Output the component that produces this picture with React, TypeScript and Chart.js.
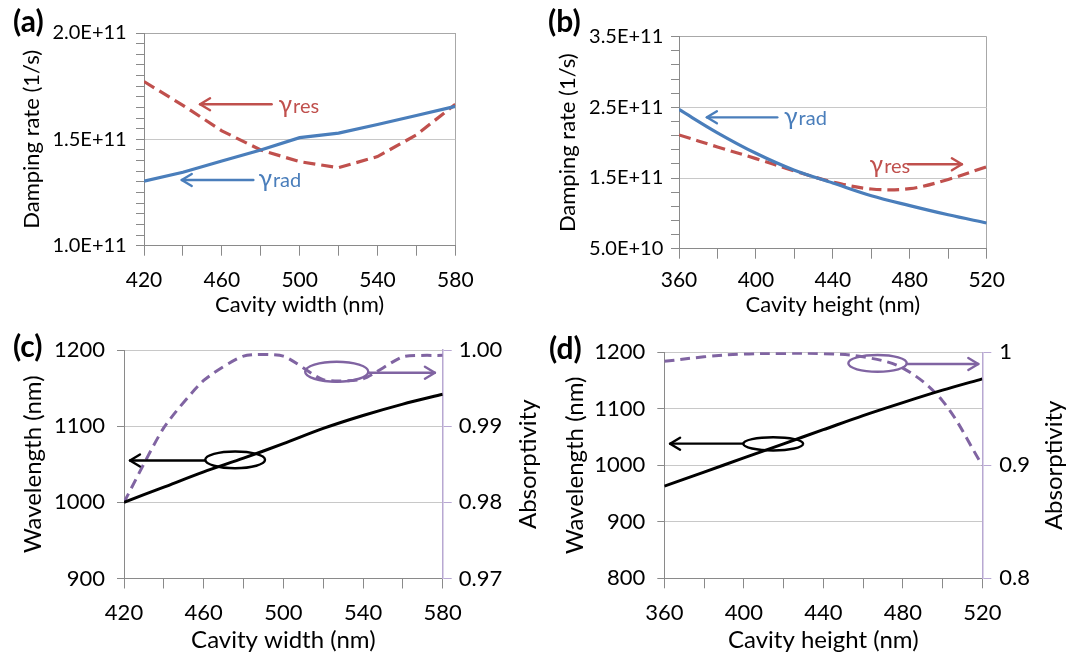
import React, { useEffect, useRef } from "react";
import { Chart, registerables } from "chart.js";
Chart.register(...registerables);

const FONT = "Lato, 'Noto Sans', 'DejaVu Sans', sans-serif";
const AXIS = "#8a8a8a";
const GRID = "#c8c8c8";
const FRAME = "#a8a8a8";
const BLUE = "#4a7ebb";
const RED = "#c0504d";
const PURPLE = "#8064a2";
const PURPLE_AXIS = "#b8a8d2";
const CLEAR = "rgba(0,0,0,0)";

// ---------- categories / x values ----------
const widthNm = [420, 440, 460, 480, 500, 520, 540, 560, 580];
const heightNm = [360, 380, 400, 420, 440, 460, 480, 500, 520];
const widthLabels = [420, 460, 500, 540, 580];
const heightLabels = [360, 400, 440, 480, 520];

// ---------- (a) damping rate vs cavity width ----------
const gammaRadA = [1.303e11, 1.345e11, 1.398e11, 1.45e11, 1.508e11, 1.529e11, 1.57e11, 1.612e11, 1.655e11];
const gammaResA = [1.772e11, 1.66e11, 1.54e11, 1.45e11, 1.395e11, 1.367e11, 1.419e11, 1.521e11, 1.665e11];
const yLabelsA = [1.0e11, 1.5e11, 2.0e11];
const yGridA = [1.5e11];

// ---------- (b) damping rate vs cavity height ----------
const gammaRadB = [2.47e11, 2.14e11, 1.85e11, 1.61e11, 1.43e11, 1.25e11, 1.11e11, 0.98e11, 0.863e11];
const gammaResB = [2.11e11, 1.94e11, 1.775e11, 1.6e11, 1.445e11, 1.345e11, 1.35e11, 1.48e11, 1.66e11];
const yLabelsB = [0.5e11, 1.5e11, 2.5e11, 3.5e11];
const yGridB = [1.5e11, 2.5e11];

// ---------- (c) wavelength / absorptivity vs cavity width ----------
const wavelengthC = [1000, 1020, 1040, 1058, 1077, 1097, 1114, 1129, 1142];
const absorptivityC = [0.98, 0.9898, 0.996, 0.9992, 0.9992, 0.9961, 0.9962, 0.9991, 0.9993];
const yTicksC = [900, 1000, 1100, 1200];
const y1TicksC = [0.97, 0.98, 0.99, 1.0];

// ---------- (d) wavelength / absorptivity vs cavity height ----------
const wavelengthD = [963, 988, 1013, 1038, 1063, 1088, 1111, 1133, 1153];
const absorptivityD = [0.992, 0.996, 0.9985, 0.999, 0.9988, 0.996, 0.986, 0.957, 0.9];
const yTicksD = [800, 900, 1000, 1100, 1200];
const y1TicksD = [0.8, 0.9, 1.0];

// ---------- annotations (data coordinates) ----------
const annotA = [
  { type: "arrow", from: 485.6, to: 448.8, y: 1.665e11, color: RED },
  { type: "label", x: 489.1, y: 1.6225e11, sub: "res", color: RED },
  { type: "arrow", from: 476.2, to: 439.4, y: 1.309e11, color: BLUE },
  { type: "label", x: 478.8, y: 1.277e11, sub: "rad", color: BLUE },
];
const annotB = [
  { type: "arrow", from: 411.1, to: 374.5, y: 2.359e11, color: BLUE },
  { type: "label", x: 414.6, y: 2.25e11, sub: "rad", color: BLUE },
  { type: "arrow", from: 479.2, to: 507.1, y: 1.694e11, color: RED },
  { type: "label", x: 459.1, y: 1.567e11, sub: "res", color: RED },
];
const annotC = [
  { type: "ellipse", x: 475.8, y: 1055.8, w: 30, h: 22, axis: "y", color: "#000" },
  { type: "arrow", from: 460.7, to: 423, y: 1055, axis: "y", color: "#000" },
  { type: "ellipse", x: 526.8, y: 0.99715, w: 31.7, h: 0.00262, axis: "y1", color: PURPLE },
  { type: "arrow", from: 542.6, to: 576.1, y: 0.99702, axis: "y1", color: PURPLE },
];
const annotD = [
  { type: "ellipse", x: 414.8, y: 1038, w: 30.1, h: 23.5, axis: "y", color: "#000" },
  { type: "arrow", from: 399.7, to: 362.9, y: 1038.3, axis: "y", color: "#000" },
  { type: "ellipse", x: 467.3, y: 0.9902, w: 29.4, h: 0.0148, axis: "y1", color: PURPLE },
  { type: "arrow", from: 482, to: 518, y: 0.9897, axis: "y1", color: PURPLE },
];

function range(start: number, end: number, step: number) {
  const out: number[] = [];
  for (let v = start; v <= end + step * 0.001; v += step) out.push(Math.round(v));
  return out;
}

function marksPlugin(marks: any[]) {
  return {
    id: "marks",
    afterDatasetsDraw(chart: any) {
      const ctx = chart.ctx;
      const xs = chart.scales.x;
      for (const m of marks) {
        const ys = chart.scales[m.axis || "y"];
        ctx.save();
        ctx.strokeStyle = m.color;
        ctx.fillStyle = m.color;
        ctx.lineWidth = 2.4;
        ctx.lineCap = "round";
        ctx.lineJoin = "round";
        if (m.type === "arrow") {
          const x1 = xs.getPixelForValue(m.from);
          const x2 = xs.getPixelForValue(m.to);
          const y = ys.getPixelForValue(m.y);
          ctx.beginPath();
          ctx.moveTo(x1, y);
          ctx.lineTo(x2, y);
          ctx.stroke();
          const dir = Math.sign(x2 - x1);
          ctx.beginPath();
          ctx.moveTo(x2 - dir * 10, y - 6);
          ctx.lineTo(x2, y);
          ctx.lineTo(x2 - dir * 10, y + 6);
          ctx.stroke();
        } else if (m.type === "ellipse") {
          const cx = xs.getPixelForValue(m.x);
          const cy = ys.getPixelForValue(m.y);
          const rx = Math.abs(xs.getPixelForValue(m.x + m.w / 2) - cx);
          const ry = Math.abs(ys.getPixelForValue(m.y + m.h / 2) - cy);
          ctx.beginPath();
          ctx.ellipse(cx, cy, rx, ry, 0, 0, Math.PI * 2);
          ctx.stroke();
        } else if (m.type === "label") {
          const x = xs.getPixelForValue(m.x);
          const y = ys.getPixelForValue(m.y);
          ctx.textAlign = "left";
          ctx.textBaseline = "alphabetic";
          ctx.font = `25px ${FONT}`;
          ctx.fillText("γ", x, y);
          const w = ctx.measureText("γ").width;
          ctx.font = `20px ${FONT}`;
          ctx.fillText(m.sub, x + w + 1, y);
        }
        ctx.restore();
      }
    },
  };
}

function rightTitlePlugin(text: string, pad: number) {
  return {
    id: "rightTitle",
    afterDraw(chart: any) {
      const s = chart.scales.y1;
      const ca = chart.chartArea;
      const ctx = chart.ctx;
      ctx.save();
      ctx.translate(s.right - pad, (ca.top + ca.bottom) / 2);
      ctx.rotate(-Math.PI / 2);
      ctx.textAlign = "center";
      ctx.textBaseline = "middle";
      ctx.font = `24px ${FONT}`;
      ctx.fillStyle = "#000";
      ctx.fillText(text, 0, 0);
      ctx.restore();
    },
  };
}

const font = (size: number) => ({ family: FONT, size });

function xAxis(opts: {
  min: number; max: number; ticks: number[]; labels: number[]; title: string; tickSize: number; titleSize: number;
  height: number; pad: number; titlePad: number; frameRight: boolean;
}) {
  return {
    type: "linear",
    min: opts.min,
    max: opts.max,
    afterBuildTicks: (s: any) => { s.ticks = opts.ticks.map((v) => ({ value: v })); },
    afterFit: (s: any) => { s.height = opts.height; },
    ticks: {
      autoSkip: false,
      maxRotation: 0,
      padding: opts.pad,
      font: font(opts.tickSize),
      color: "#000",
      callback: (v: number) => (opts.labels.includes(v) ? String(v) : ""),
    },
    grid: {
      color: (c: any) => (opts.frameRight && c.tick && c.tick.value === opts.max ? FRAME : CLEAR),
      tickColor: AXIS,
      tickLength: 10,
      lineWidth: 1,
    },
    border: { display: true, color: AXIS, width: 1 },
    title: { display: true, text: opts.title, font: font(opts.titleSize), color: "#000", padding: { top: 0, bottom: opts.titlePad } },
  };
}

function yAxis(opts: {
  min: number; max: number; ticks: number[]; labels: number[]; grid: number[]; top: string | null; tickSize: number; titleSize: number;
  fmt: (v: number) => string; width: number; pad: number; tickLength: number; title: string; titlePad: number;
}) {
  return {
    type: "linear",
    position: "left",
    min: opts.min,
    max: opts.max,
    afterBuildTicks: (s: any) => { s.ticks = opts.ticks.map((v) => ({ value: v })); },
    afterFit: (s: any) => { s.width = opts.width; },
    ticks: {
      autoSkip: false,
      padding: opts.pad,
      font: font(opts.tickSize),
      color: "#000",
      callback: (v: number) => (opts.labels.includes(v) ? opts.fmt(v) : ""),
    },
    grid: {
      color: (c: any) => {
        if (!c.tick) return CLEAR;
        if (c.tick.value === opts.max && opts.top) return opts.top;
        return opts.grid.includes(c.tick.value) ? GRID : CLEAR;
      },
      tickColor: AXIS,
      tickLength: opts.tickLength,
      lineWidth: 1,
    },
    border: { display: true, color: AXIS, width: 1 },
    title: { display: true, text: opts.title, font: font(opts.titleSize), color: "#000", padding: { top: opts.titlePad, bottom: 0 } },
  };
}

function y1Axis(opts: { min: number; max: number; ticks: number[]; fmt: (v: number) => string; width: number; pad: number }) {
  return {
    type: "linear",
    position: "right",
    min: opts.min,
    max: opts.max,
    afterBuildTicks: (s: any) => { s.ticks = opts.ticks.map((v) => ({ value: v })); },
    afterFit: (s: any) => { s.width = opts.width; },
    ticks: { autoSkip: false, padding: opts.pad, font: font(22), color: "#000", callback: (v: number) => opts.fmt(v) },
    grid: { drawOnChartArea: false, tickColor: PURPLE_AXIS, tickLength: 9, lineWidth: 1 },
    border: { display: true, color: PURPLE_AXIS, width: 1.5 },
    title: { display: false },
  };
}

const sci = (v: number) => v.toExponential(1).toUpperCase();

function pts(xs: number[], ys: number[]) {
  return xs.map((x, i) => ({ x, y: ys[i] }));
}

const baseOptions = (padding: any, scales: any) => ({
  responsive: false,
  animation: false,
  devicePixelRatio: 1,
  layout: { padding },
  plugins: { legend: { display: false }, tooltip: { enabled: false } },
  elements: { point: { radius: 0 } },
  scales,
});

function configA() {
  return {
    type: "line",
    data: {
      datasets: [
        { data: pts(widthNm, gammaRadA), borderColor: BLUE, borderWidth: 3.2, tension: 0, fill: false },
        { data: pts(widthNm, gammaResA), borderColor: RED, borderWidth: 3.2, borderDash: [12, 6], tension: 0, fill: false },
      ],
    },
    options: baseOptions({ top: 33, right: 79.7, left: 0, bottom: 0 }, {
      x: xAxis({ min: 420, max: 580, ticks: widthNm, labels: widthLabels, title: "Cavity width (nm)", tickSize: 21, titleSize: 22, height: 74.3, pad: 11.7, titlePad: 1.8, frameRight: true }),
      y: yAxis({ min: 1.0e11, max: 2.0e11, ticks: range(1.0e11, 2.0e11, 5e9), labels: yLabelsA, grid: yGridA, top: FRAME, tickSize: 20, titleSize: 22, fmt: sci, width: 144, pad: 9.3, tickLength: 8, title: "Damping rate (1/s)", titlePad: 18.5 }),
    }),
    plugins: [marksPlugin(annotA)],
  };
}

function configB() {
  return {
    type: "line",
    data: {
      datasets: [
        { data: pts(heightNm, gammaRadB), borderColor: BLUE, borderWidth: 3.2, tension: 0.35, fill: false },
        { data: pts(heightNm, gammaResB), borderColor: RED, borderWidth: 3.2, borderDash: [12, 6], tension: 0.35, fill: false },
      ],
    },
    options: baseOptions({ top: 36.7, right: 88.3, left: 0, bottom: 0 }, {
      x: xAxis({ min: 360, max: 520, ticks: heightNm, labels: heightLabels, title: "Cavity height (nm)", tickSize: 21, titleSize: 22, height: 71.3, pad: 9.1, titlePad: 1.8, frameRight: true }),
      y: yAxis({ min: 0.5e11, max: 3.5e11, ticks: range(0.5e11, 3.5e11, 2e10), labels: yLabelsB, grid: yGridB, top: FRAME, tickSize: 20, titleSize: 22, fmt: sci, width: 144, pad: 7.7, tickLength: 8, title: "Damping rate (1/s)", titlePad: 20.1 }),
    }),
    plugins: [marksPlugin(annotB)],
  };
}

function configC() {
  return {
    type: "line",
    data: {
      datasets: [
        { data: pts(widthNm, wavelengthC), borderColor: "#000", borderWidth: 3, tension: 0.3, fill: false, yAxisID: "y" },
        { data: pts(widthNm, absorptivityC), borderColor: PURPLE, borderWidth: 3, borderDash: [10, 6], tension: 0.2, fill: false, yAxisID: "y1" },
      ],
    },
    options: baseOptions({ top: 30, right: 0, left: 0, bottom: 0 }, {
      x: xAxis({ min: 420, max: 580, ticks: widthNm, labels: widthLabels, title: "Cavity width (nm)", tickSize: 22, titleSize: 24, height: 78.5, pad: 11.3, titlePad: 2.6, frameRight: false }),
      y: yAxis({ min: 900, max: 1200, ticks: yTicksC, labels: yTicksC, grid: [1000, 1100], top: GRID, tickSize: 22, titleSize: 24, fmt: (v) => String(v), width: 124, pad: 12, tickLength: 7, title: "Wavelength (nm)", titlePad: 18.6 }),
      y1: y1Axis({ min: 0.97, max: 1.0, ticks: y1TicksC, fmt: (v) => v.toFixed(2), width: 107.3, pad: 7 }),
    }),
    plugins: [marksPlugin(annotC), rightTitlePlugin("Absorptivity", 22)],
  };
}

function configD() {
  return {
    type: "line",
    data: {
      datasets: [
        { data: pts(heightNm, wavelengthD), borderColor: "#000", borderWidth: 3, tension: 0.3, fill: false, yAxisID: "y" },
        { data: pts(heightNm, absorptivityD), borderColor: PURPLE, borderWidth: 3, borderDash: [10, 6], tension: 0.35, fill: false, yAxisID: "y1" },
      ],
    },
    options: baseOptions({ top: 32.3, right: 0, left: 0, bottom: 0 }, {
      x: xAxis({ min: 360, max: 520, ticks: heightNm, labels: heightLabels, title: "Cavity height (nm)", tickSize: 22, titleSize: 24, height: 78.7, pad: 11.5, titlePad: 2.6, frameRight: false }),
      y: yAxis({ min: 800, max: 1200, ticks: yTicksD, labels: yTicksD, grid: [900, 1000, 1100], top: GRID, tickSize: 22, titleSize: 24, fmt: (v) => String(v), width: 129.3, pad: 12, tickLength: 7, title: "Wavelength (nm)", titlePad: 25.4 }),
      y1: y1Axis({ min: 0.8, max: 1.0, ticks: y1TicksD, fmt: (v) => (Math.abs(v - 1) < 1e-9 ? "1" : v.toFixed(1)), width: 92.7, pad: 8 }),
    }),
    plugins: [marksPlugin(annotD), rightTitlePlugin("Absorptivity", 21)],
  };
}

function Panel(props: { left: number; top: number; width: number; height: number; make: () => any }) {
  const ref = useRef<HTMLCanvasElement | null>(null);
  useEffect(() => {
    if (!ref.current) return;
    const chart = new Chart(ref.current, props.make());
    return () => chart.destroy();
  }, []);
  return (
    <canvas
      ref={ref}
      width={props.width}
      height={props.height}
      style={{ position: "absolute", left: props.left, top: props.top, width: props.width, height: props.height, display: "block" }}
    />
  );
}

const labelStyle = (left: number, top: number): React.CSSProperties => ({
  position: "absolute",
  left,
  top,
  fontFamily: FONT,
  fontWeight: 700,
  fontSize: 30,
  lineHeight: "30px",
  color: "#000",
});

export default function App() {
  return (
    <div style={{ position: "fixed", left: 0, top: 0, width: 1075, height: 657, background: "#fff", overflow: "hidden" }}>
      <Panel left={0} top={0} width={535} height={320} make={configA} />
      <Panel left={535} top={0} width={540} height={320} make={configB} />
      <Panel left={0} top={320} width={550} height={337} make={configC} />
      <Panel left={535} top={320} width={540} height={337} make={configD} />
      <div style={labelStyle(13, 5)}>(a)</div>
      <div style={labelStyle(548, 5)}>(b)</div>
      <div style={labelStyle(13, 330)}>(c)</div>
      <div style={labelStyle(549, 332)}>(d)</div>
    </div>
  );
}
